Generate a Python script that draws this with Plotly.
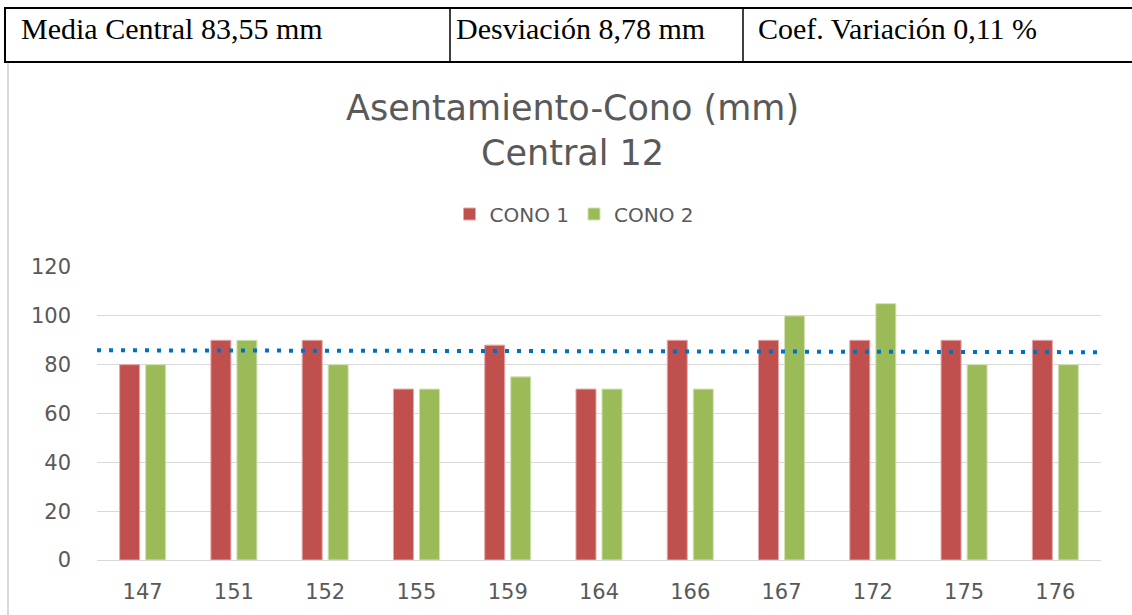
import plotly.graph_objects as go

categories = ["147", "151", "152", "155", "159", "164", "166", "167", "172", "175", "176"]
cono1 = [80, 90, 90, 70, 88, 70, 90, 90, 90, 90, 90]
cono2 = [80, 90, 80, 70, 75, 70, 70, 100, 105, 80, 80]
trend_values = [85.9, 85.1]
y_ticks = [0, 20, 40, 60, 80, 100, 120]
series_names = ["CONO 1", "CONO 2"]
title_lines = ["Asentamiento-Cono (mm)", "Central 12"]
table_labels = ["Media Central 83,55 mm", "Desviación 8,78 mm", "Coef. Variación 0,11 %"]

W, H = 1132, 615


def px(x):
    return x / W


def py(y):
    return 1 - y / H


idx = list(range(len(categories)))

fig = go.Figure()
fig.add_trace(go.Bar(
    x=idx, y=cono1, name=series_names[0],
    marker=dict(color="#C0504D", line=dict(color="#E3A9A7", width=1)),
))
fig.add_trace(go.Bar(
    x=idx, y=cono2, name=series_names[1],
    marker=dict(color="#9BBB59", line=dict(color="#D2E2B4", width=1)),
))
fig.add_trace(go.Scatter(
    x=[idx[0] - 0.5, idx[-1] + 0.5], y=trend_values, mode="lines",
    line=dict(color="#0070C0", width=4, dash="4px,8px"),
    showlegend=False, hoverinfo="skip",
))

GRAY = "#595959"
SANS = "DejaVu Sans, sans-serif"
TICKFONT = dict(family=SANS, size=21, color=GRAY)
SERIF = dict(family="Liberation Serif", size=30, color="black")

shapes = [
    # chart frame
    dict(type="rect", xref="paper", yref="paper", x0=px(8), x1=px(1140), y0=py(630), y1=py(62),
         line=dict(color="#D9D9D9", width=2), fillcolor="rgba(0,0,0,0)", layer="below"),
    # table
    dict(type="line", xref="paper", yref="paper", x0=px(4), x1=px(1132), y0=py(8), y1=py(8),
         line=dict(color="black", width=2)),
    dict(type="line", xref="paper", yref="paper", x0=px(4), x1=px(1132), y0=py(62), y1=py(62),
         line=dict(color="black", width=2)),
    dict(type="line", xref="paper", yref="paper", x0=px(5), x1=px(5), y0=py(8), y1=py(62),
         line=dict(color="black", width=2)),
    dict(type="line", xref="paper", yref="paper", x0=px(450), x1=px(450), y0=py(8), y1=py(62),
         line=dict(color="black", width=1.5)),
    dict(type="line", xref="paper", yref="paper", x0=px(743), x1=px(743), y0=py(8), y1=py(62),
         line=dict(color="black", width=1.5)),
]

annotations = [
    dict(text=table_labels[0], x=px(19), y=py(29), xref="paper", yref="paper",
         xanchor="left", yanchor="middle", showarrow=False, font=SERIF),
    dict(text=table_labels[1], x=px(454), y=py(29), xref="paper", yref="paper",
         xanchor="left", yanchor="middle", showarrow=False, font=SERIF),
    dict(text=table_labels[2], x=px(756), y=py(29), xref="paper", yref="paper",
         xanchor="left", yanchor="middle", showarrow=False, font=SERIF),
    dict(text=title_lines[0], x=px(572), y=py(108), xref="paper", yref="paper",
         xanchor="center", yanchor="middle", showarrow=False,
         font=dict(family=SANS, size=35, color=GRAY)),
    dict(text=title_lines[1], x=px(572), y=py(153), xref="paper", yref="paper",
         xanchor="center", yanchor="middle", showarrow=False,
         font=dict(family=SANS, size=35, color=GRAY)),
]

fig.update_layout(
    width=W, height=H,
    margin=dict(l=0, r=0, t=0, b=0, autoexpand=False),
    paper_bgcolor="white", plot_bgcolor="white",
    barmode="group", bargap=0.43, bargroupgap=0.23,
    shapes=shapes, annotations=annotations,
    legend=dict(orientation="h", x=px(574), xanchor="center", y=py(214), yanchor="middle",
                font=dict(family=SANS, size=20, color=GRAY),
                traceorder="normal", itemwidth=30),
    xaxis=dict(domain=[px(97), px(1101)], range=[-0.5, len(categories) - 0.5],
               tickmode="array", tickvals=idx, ticktext=categories,
               showgrid=False, zeroline=False, showline=False, ticks="",
               tickfont=TICKFONT, ticklabelstandoff=17, automargin=False),
    yaxis=dict(domain=[py(560), py(267)], range=[0, 120],
               tickmode="array", tickvals=y_ticks,
               showgrid=True, gridcolor="#D9D9D9", gridwidth=1,
               zeroline=True, zerolinecolor="#D9D9D9", zerolinewidth=1,
               showline=False, ticks="", tickfont=TICKFONT, ticklabelstandoff=25,
               automargin=False),
)

fig.write_html("out.html", config={"displayModeBar": False},
               post_script="document.body.style.margin='0';")
